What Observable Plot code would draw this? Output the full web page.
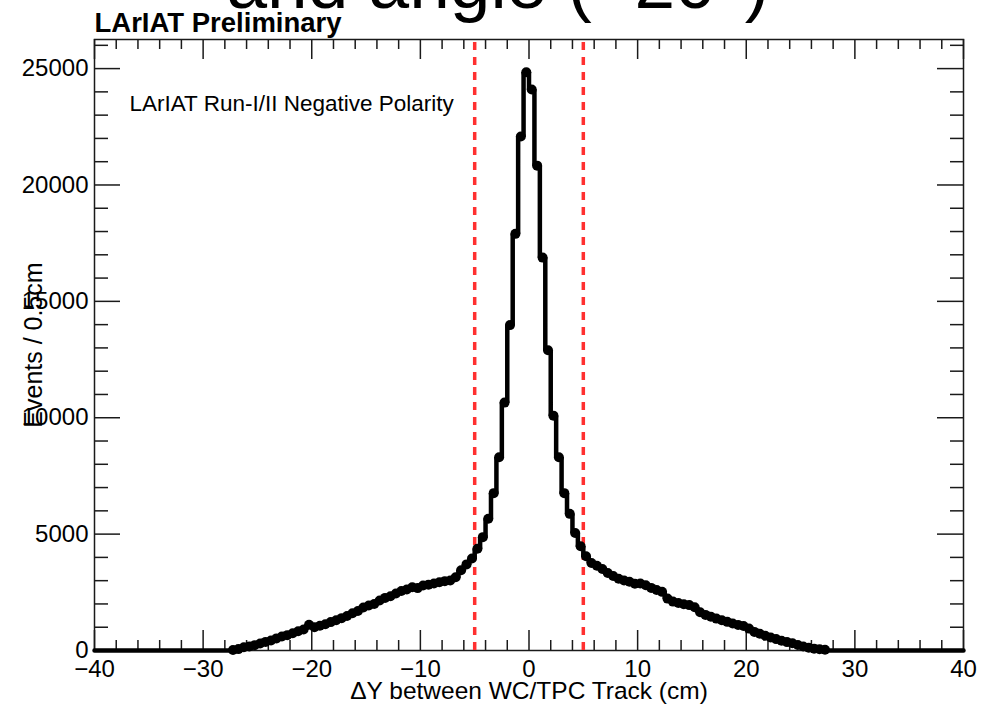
<!DOCTYPE html>
<html><head><meta charset="utf-8">
<script src="https://cdn.jsdelivr.net/npm/d3@7"></script>
<script src="https://cdn.jsdelivr.net/npm/@observablehq/plot@0.6"></script>
<style>
html,body{margin:0;padding:0;background:#fff;}
#chart svg{display:block;}
</style></head><body><div id="chart"></div>
<script>
// Histogram: 160 bins of 0.5 cm from -40 to 40 (Events / 0.5 cm)
const binStart = -40;
const binWidth = 0.5;
const counts = [
  // -40 .. -27.5
  0,0,0,0,0,0,0,0,0,0, 0,0,0,0,0,0,0,0,0,0, 0,0,0,0,0,
  // -27.5 .. -20
  20,60,140,170,230,300,370,430,520,600,660,740,830,900,1110,
  // -20 .. -10
  1000,1060,1130,1220,1300,1390,1480,1600,1700,1850,1930,2000,2150,2260,2330,2450,2560,2620,2720,2680,
  // -10 .. 0
  2790,2830,2880,2930,2980,3010,3150,3450,3700,3950,4370,4870,5660,6760,8300,10650,13980,17900,22080,24840,
  // 0 .. 10
  24100,20830,16880,12900,10090,8300,6760,5870,5050,4480,4050,3760,3640,3500,3330,3200,3080,3010,2950,2870,
  // 10 .. 20
  2880,2800,2690,2600,2520,2230,2100,2040,1990,1950,1860,1640,1530,1450,1370,1300,1230,1160,1100,1050,
  // 20 .. 27.5
  940,800,720,630,560,490,420,360,310,240,170,120,80,50,30,
  // 27.5 .. 40
  0,0,0,0,0,0,0,0,0,0, 0,0,0,0,0,0,0,0,0,0, 0,0,0,0,0
];
const xTickLabels = [-40, -30, -20, -10, 0, 10, 20, 30, 40];
const yTickLabels = [0, 5000, 10000, 15000, 20000, 25000];
const cutLines = [-5, 5];
const xDomain = [-40, 40];
const yDomain = [0, 26250];
const topTitle = "and angle (~20°)";
const expLabel = "LArIAT Preliminary";
const runLabel = "LArIAT Run-I/II Negative Polarity";
const xTitle = "ΔY between WC/TPC Track (cm)";
const yTitle = "Events / 0.5cm";

const W = 990, H = 706;
const mL = 94, mR = 27, mT = 39, mB = 56;
const frameW = W - mL - mR, frameH = H - mT - mB;
const ySpan = yDomain[1] - yDomain[0];
const pxY = px => px / frameH * ySpan; // tick length in y units

const bins = counts.map((c, i) => ({lo: binStart + i * binWidth, hi: binStart + (i + 1) * binWidth, mid: binStart + (i + 0.5) * binWidth, c}));
const steps = bins.flatMap(b => [{x: b.lo, y: b.c}, {x: b.hi, y: b.c}]);
const filled = bins.filter(b => b.c > 0);

const xMinor = d3.range(-40, 40.001, 2).filter(v => !xTickLabels.includes(v));
const yMinor = d3.range(0, 26001, 1000).filter(v => !yTickLabels.includes(v));
const tickStyle = {stroke: "#1a1a1a", strokeWidth: 1.5};
const font = "Liberation Sans, Arial, Helvetica, sans-serif";

const chart = Plot.plot({
  width: W, height: H,
  marginLeft: mL, marginRight: mR, marginTop: mT, marginBottom: mB,
  x: {domain: xDomain},
  y: {domain: yDomain},
  style: {fontFamily: font, fontSize: "24px", background: "white", color: "black", overflow: "visible"},
  marks: [
    // inward ticks, bottom
    Plot.ruleX(xTickLabels, {x: d => d, y1: yDomain[0], y2: yDomain[0] + pxY(20), ...tickStyle}),
    Plot.ruleX(xMinor, {x: d => d, y1: yDomain[0], y2: yDomain[0] + pxY(10), ...tickStyle}),
    // top
    Plot.ruleX(xTickLabels, {x: d => d, y1: yDomain[1] - pxY(20), y2: yDomain[1], ...tickStyle}),
    Plot.ruleX(xMinor, {x: d => d, y1: yDomain[1] - pxY(10), y2: yDomain[1], ...tickStyle}),
    // left
    Plot.ruleY(yTickLabels, {y: d => d, x1: xDomain[0], x2: xDomain[1], insetRight: frameW - 26, ...tickStyle}),
    Plot.ruleY(yMinor, {y: d => d, x1: xDomain[0], x2: xDomain[1], insetRight: frameW - 14, ...tickStyle}),
    // right
    Plot.ruleY(yTickLabels, {y: d => d, x1: xDomain[0], x2: xDomain[1], insetLeft: frameW - 26, ...tickStyle}),
    Plot.ruleY(yMinor, {y: d => d, x1: xDomain[0], x2: xDomain[1], insetLeft: frameW - 13, ...tickStyle}),
    Plot.frame({stroke: "#1a1a1a", strokeWidth: 1.5}),
    Plot.axisX(xTickLabels, {tickSize: 0, tickPadding: 9, fontSize: 24, label: null, fill: "black"}),
    Plot.axisY(yTickLabels, {tickSize: 0, tickPadding: 6, fontSize: 24, label: null, tickFormat: d3.format("d"), fill: "black"}),
    // cut lines
    Plot.ruleX(cutLines, {x: d => d, y1: yDomain[0], y2: yDomain[1], stroke: "#ff3030", strokeWidth: 3.5, strokeDasharray: "8,7"}),
    // histogram
    Plot.line(steps, {x: "x", y: "y", stroke: "black", strokeWidth: 4.5, strokeLinejoin: "miter"}),
    Plot.dot(filled, {x: "mid", y: "c", r: 5, fill: "black", stroke: "none"}),
    // texts
    Plot.text([runLabel], {frameAnchor: "top-left", dx: 35, dy: 71, text: d => d, textAnchor: "start", lineAnchor: "bottom", fontSize: 22.5, fill: "black"}),
    Plot.text([expLabel], {frameAnchor: "top-left", dx: 0, dy: -7.5, text: d => d, textAnchor: "start", lineAnchor: "bottom", fontSize: 27.5, fontWeight: "bold", fill: "black"}),
    Plot.text([topTitle], {frameAnchor: "top-left", dx: 132, dy: -32, text: d => d, textAnchor: "start", lineAnchor: "bottom", fontSize: 73, fill: "black"}),
    Plot.text([xTitle], {frameAnchor: "bottom", dy: 48, text: d => d, textAnchor: "middle", lineAnchor: "bottom", fontSize: 24.5, fill: "black"}),
    Plot.text([yTitle], {frameAnchor: "left", dx: -61, text: d => d, rotate: -90, textAnchor: "middle", lineAnchor: "middle", fontSize: 25, fill: "black"})
  ]
});
document.getElementById("chart").appendChild(chart);
</script>
</body></html>
